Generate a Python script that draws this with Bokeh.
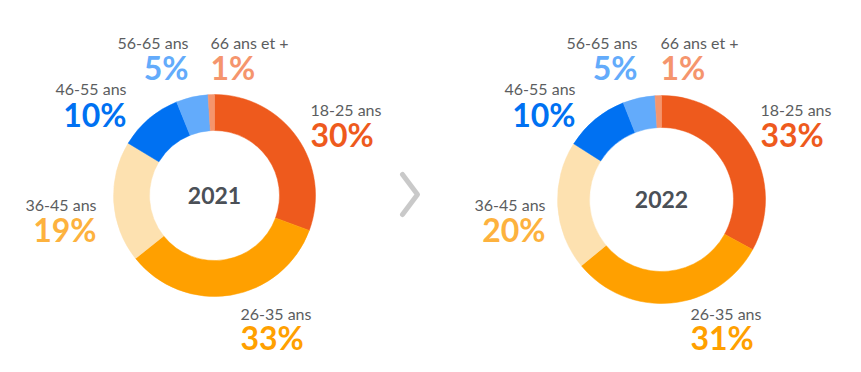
import math
from bokeh.plotting import figure
from bokeh.models import Range1d, ColumnDataSource
from bokeh.core.properties import value
from bokeh.embed import file_html
from bokeh.resources import INLINE

# ---- data ----
categories = ["18-25 ans", "26-35 ans", "36-45 ans", "46-55 ans", "56-65 ans", "66 ans et +"]
years = ["2021", "2022"]
share_2021 = [30, 33, 19, 10, 5, 1]
share_2022 = [33, 31, 20, 10, 5, 1]

# ---- styles ----
wedge_colors = ["#EE5A1D", "#FFA000", "#FDE1B0", "#0071F2", "#63ABFB", "#F5956D"]
pct_colors = ["#EE5A1D", "#FFA000", "#FDB23E", "#0071F2", "#63ABFB", "#F5956D"]
label_color = "#5B5D60"
year_color = "#4B5057"

W, H = 845, 356
PAGE_H = 372

def Y(sy):
    return PAGE_H - sy

# layout per chart: center, radii, label anchors (screen coords: x, align, label centre y, pct centre y)
charts = [
    dict(cx=214, cy=195, r_in=65, r_out=101,
         anchors=[(310, "left", 109, 134), (240, "left", 313, 337), (96, "right", 204, 229),
                  (126, "right", 88, 114), (188, "right", 42, 67), (210, "left", 42, 67)]),
    dict(cx=661, cy=199, r_in=72, r_out=104,
         anchors=[(760, "left", 109, 134), (690, "left", 313, 337), (545, "right", 204, 229),
                  (575, "right", 88, 114), (637, "right", 42, 67), (660, "left", 42, 67)]),
]

p = figure(width=W, height=H, output_backend="svg", toolbar_location=None,
           x_range=Range1d(0, W), y_range=Range1d(Y(H), Y(0)),
           min_border=0, outline_line_color=None)
p.axis.visible = False
p.grid.visible = False
p.background_fill_color = "white"
p.border_fill_color = "white"

for year, shares, ch in zip(years, [share_2021, share_2022], charts):
    total = float(sum(shares))
    starts, ends = [], []
    cum = 0.0
    for s in shares:
        starts.append(math.pi / 2 - 2 * math.pi * cum / total)
        cum += s
        ends.append(math.pi / 2 - 2 * math.pi * cum / total)
    src = ColumnDataSource(dict(x=[ch["cx"]] * len(shares), y=[Y(ch["cy"])] * len(shares),
                                start=starts, end=ends, color=wedge_colors))
    p.annular_wedge(x="x", y="y", inner_radius=ch["r_in"], outer_radius=ch["r_out"],
                    inner_radius_units="screen", outer_radius_units="screen",
                    start_angle="start", end_angle="end", direction="clock",
                    fill_color="color", line_color="color", line_width=0.5, source=src)

    p.text(x=[ch["cx"]], y=[Y(ch["cy"])], text=[year], text_font=value("Lato"),
           text_font_style="bold", text_font_size="23px", text_color=year_color,
           text_align="center", text_baseline="middle")

    for cat, s, pc, (ax, align, ly, py) in zip(categories, shares, pct_colors, ch["anchors"]):
        p.text(x=[ax], y=[Y(ly)], text=[cat], text_font=value("Lato"),
               text_font_size="16px", text_color=label_color,
               text_align=align, text_baseline="middle")
        p.text(x=[ax], y=[Y(py)], text=[f"{s}%"], text_font=value("Lato"),
               text_font_style="bold", text_font_size="32px", text_color=pc,
               text_align=align, text_baseline="middle")

# chevron between the two charts
p.line(x=[402, 417, 402], y=[Y(174), Y(194), Y(214)], line_color="#C9C9C9",
       line_width=5, line_cap="round", line_join="round")

open("out.html", "w").write(file_html(p, INLINE))
